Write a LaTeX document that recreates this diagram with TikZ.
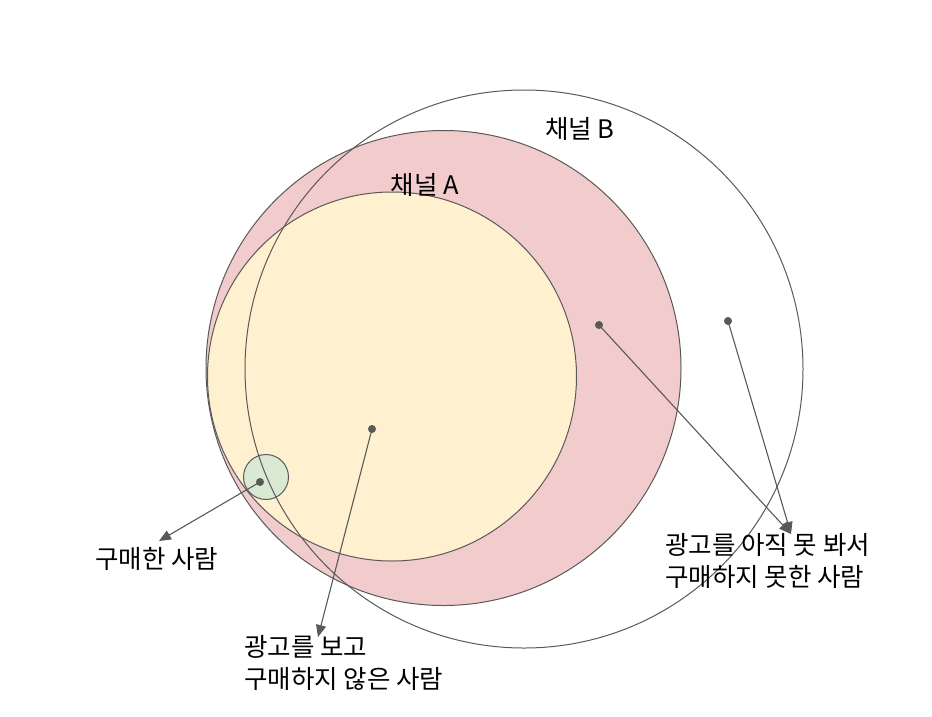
\documentclass[tikz,border=0pt]{standalone}
\usepackage{fontspec}
\setmainfont{Noto Sans CJK KR}
\usetikzlibrary{arrows.meta}
\definecolor{pinkA}{HTML}{F2CBCC}
\definecolor{yellowA}{HTML}{FFF1CF}
\definecolor{greenA}{HTML}{D9E9D4}
\definecolor{lineA}{HTML}{595959}
\tikzset{
  dot/.style={circle, fill=lineA, inner sep=0pt, minimum size=8pt},
  arr/.style={lineA, line width=1.1pt, -{Triangle[length=12pt, width=10pt]}},
  lbl/.style={align=left, inner sep=0pt, font=\fontsize{25.5}{32}\selectfont}
}
\begin{document}
\begin{tikzpicture}[x=1pt, y=-1pt]
  \useasboundingbox (0,0) rectangle (932,716);
  % Channel A (pink)
  \draw[lineA, line width=1pt, fill=pinkA] (443.5,368) circle (237.5);
  % People who saw the ad (yellow)
  \draw[lineA, line width=1pt, fill=yellowA] (392,376.5) circle (184.5);
  % People who bought (green)
  \draw[lineA, line width=1pt, fill=greenA] (266,477) circle (22.5);
  % Channel B (outline only)
  \draw[lineA, line width=1pt] (524,369) circle (279);
  \node[lbl] (chB) at (580,129) {채널 B};
  \node[lbl] (chA) at (425,185) {채널 A};
  % dots
  \node[dot] (dA) at (599,325) {};
  \node[dot] (dB) at (728,321) {};
  \node[dot] (dY) at (372,429) {};
  \node[dot] (dG) at (260,482) {};
  % arrow ends
  \coordinate (tN) at (791,534);
  \coordinate (tY) at (318,637);
  \coordinate (tG) at (159,541);
  \draw[arr] (dA.center) -- (tN);
  \draw[arr] (dB.center) -- (tN);
  \draw[arr] (dY.center) -- (tY);
  \draw[arr] (dG.center) -- (tG);
  % labels
  \node[lbl, anchor=west] (lN) at (665,561) {광고를 아직 못 봐서\\구매하지 못한 사람};
  \node[lbl, anchor=west] (lY) at (244,663) {광고를 보고\\구매하지 않은 사람};
  \node[lbl, anchor=west] (lG) at (95,559) {구매한 사람};
\end{tikzpicture}
\end{document}
